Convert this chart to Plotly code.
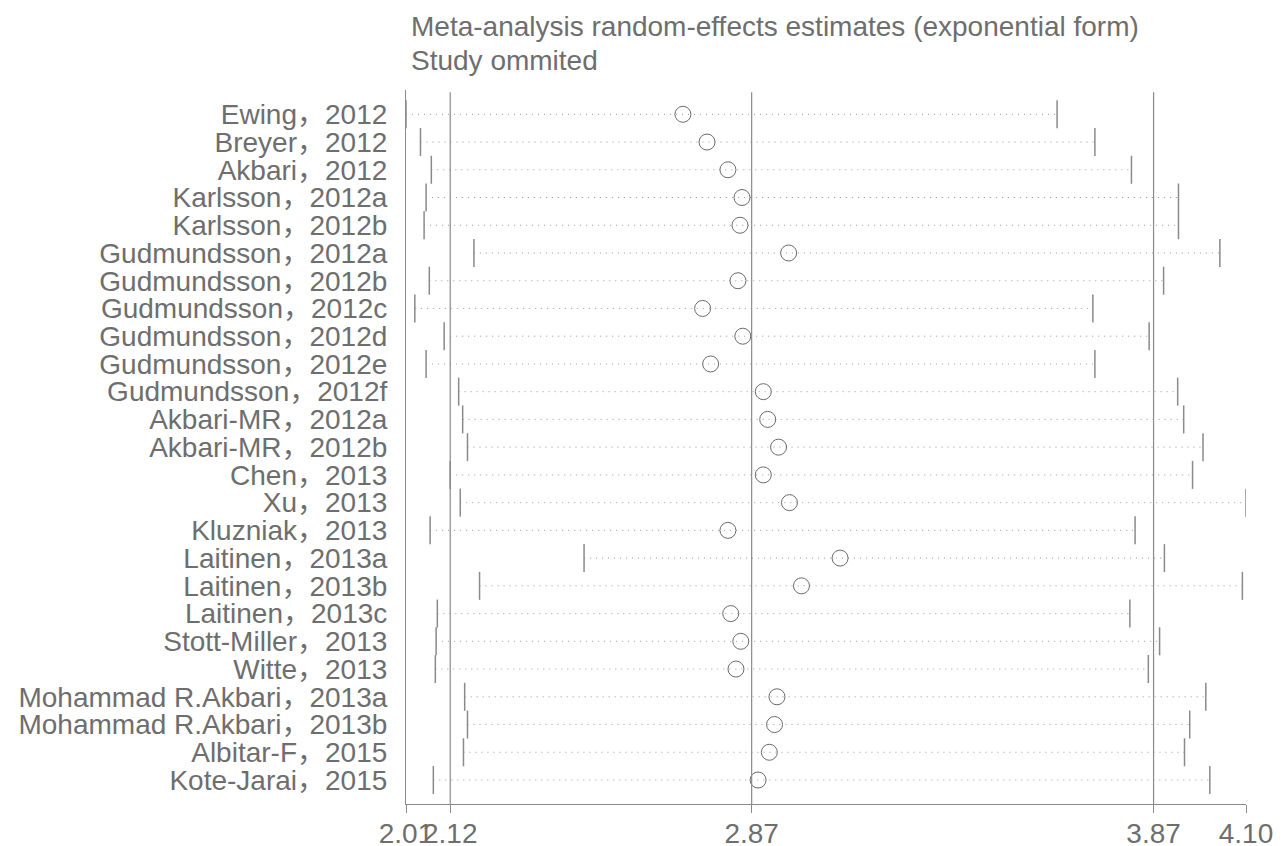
import plotly.graph_objects as go

studies = [
    "Ewing，2012", "Breyer，2012", "Akbari，2012", "Karlsson，2012a", "Karlsson，2012b",
    "Gudmundsson，2012a", "Gudmundsson，2012b", "Gudmundsson，2012c", "Gudmundsson，2012d",
    "Gudmundsson，2012e", "Gudmundsson，2012f", "Akbari-MR，2012a", "Akbari-MR，2012b",
    "Chen，2013", "Xu，2013", "Kluzniak，2013", "Laitinen，2013a", "Laitinen，2013b",
    "Laitinen，2013c", "Stott-Miller，2013", "Witte，2013", "Mohammad R.Akbari，2013a",
    "Mohammad R.Akbari，2013b", "Albitar-F，2015", "Kote-Jarai，2015",
]
ci_low = [2.010, 2.046, 2.073, 2.060, 2.055, 2.179, 2.068, 2.032, 2.105, 2.060,
          2.141, 2.151, 2.163, 2.120, 2.145, 2.070, 2.453, 2.193, 2.088, 2.085,
          2.083, 2.156, 2.163, 2.153, 2.078]
estimate = [2.699, 2.759, 2.811, 2.846, 2.841, 2.962, 2.836, 2.748, 2.848, 2.768,
            2.899, 2.910, 2.937, 2.899, 2.964, 2.811, 3.090, 2.994, 2.818, 2.843,
            2.831, 2.933, 2.927, 2.914, 2.886]
ci_high = [3.630, 3.724, 3.815, 3.932, 3.932, 4.035, 3.895, 3.719, 3.859, 3.724,
           3.930, 3.945, 3.993, 3.967, 4.100, 3.824, 3.897, 4.091, 3.811, 3.885,
           3.857, 4.000, 3.960, 3.947, 4.010]
x_ticks = [2.01, 2.12, 2.87, 3.87, 4.10]
x_tick_labels = ["2.01", "2.12", "2.87", "3.87", "4.10"]
ref_lines = [2.12, 2.87, 3.87]
title_lines = ["Meta-analysis random-effects estimates (exponential form)", "Study ommited"]

TEXT = "#6e6e6e"
LINE = "#8a8a8a"
DOT = "#9a9a9a"
FONT = "Liberation Sans, Noto Sans CJK SC, Arial, sans-serif"
FS = 28

rows = list(range(len(studies)))

seg_x, seg_y = [], []
for i in rows:
    seg_x += [ci_low[i], ci_high[i], None]
    seg_y += [i, i, None]

fig = go.Figure()
fig.add_trace(go.Scatter(
    x=seg_x, y=seg_y, mode="lines",
    line=dict(color=DOT, width=1, dash="1px,5px"),
    hoverinfo="skip", showlegend=False))
fig.add_trace(go.Scatter(
    x=ci_low + ci_high, y=rows + rows, mode="markers",
    marker=dict(symbol="line-ns-open", size=20, color=LINE, line=dict(color=LINE, width=1.5)),
    showlegend=False))
fig.add_trace(go.Scatter(
    x=estimate, y=rows, mode="markers",
    marker=dict(symbol="circle-open", size=16, color="#6a6a6a", line=dict(color="#6a6a6a", width=1)),
    showlegend=False))

for v in ref_lines:
    fig.add_shape(type="line", xref="x", yref="paper", x0=v, x1=v, y0=0, y1=0.997,
                  line=dict(color=LINE, width=1.2))

fig.add_annotation(xref="paper", yref="paper", x=0.004, y=1.0, xanchor="left", yanchor="bottom",
                   yshift=46, text=title_lines[0], showarrow=False,
                   font=dict(family=FONT, size=FS, color=TEXT))
fig.add_annotation(xref="paper", yref="paper", x=0.004, y=1.0, xanchor="left", yanchor="bottom",
                   yshift=12, text=title_lines[1], showarrow=False,
                   font=dict(family=FONT, size=FS, color=TEXT))

# the page adds an 8px body margin, so the figure is 8px smaller and top/left margins shifted
fig.update_layout(
    width=1276, height=838,
    margin=dict(l=398, r=38, t=82, b=42, autoexpand=False),
    paper_bgcolor="white", plot_bgcolor="white",
    font=dict(family=FONT, size=FS, color=TEXT),
    xaxis=dict(range=[2.01, 4.10], tickvals=x_ticks, ticktext=x_tick_labels,
               showgrid=False, zeroline=False, showline=True, linecolor=LINE, linewidth=1.2,
               ticks="outside", ticklen=8, tickcolor=LINE, tickwidth=1.2, tickangle=0,
               ticklabelstandoff=-4, automargin=False,
               tickfont=dict(family=FONT, size=FS, color=TEXT)),
    yaxis=dict(range=[24.865, -0.876], tickvals=rows, ticktext=studies,
               showgrid=False, zeroline=False, showline=True, linecolor=LINE, linewidth=1.2,
               ticks="outside", ticklen=12, tickcolor="rgba(0,0,0,0)", automargin=False,
               tickfont=dict(family=FONT, size=FS, color=TEXT)),
)

fig.write_html("out.html")
